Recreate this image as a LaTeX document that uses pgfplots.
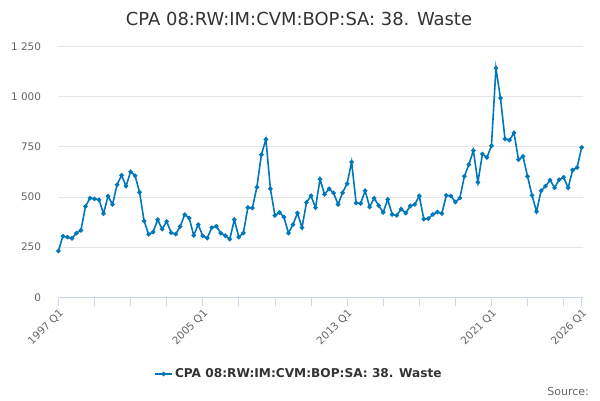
\documentclass[border=0pt]{standalone}
\usepackage{pgfplots}
\pgfplotsset{compat=1.18}
\usepackage{fontspec}
\setmainfont{DejaVu Sans}
\definecolor{linecol}{RGB}{0,119,187}
\definecolor{gridcol}{RGB}{230,230,230}
\definecolor{axiscol}{RGB}{204,214,235}
\definecolor{ticktext}{RGB}{102,102,102}
\definecolor{titletext}{RGB}{51,51,51}
\begin{document}
\begin{tikzpicture}[x=1bp,y=1bp]
\path[use as bounding box] (0,0) rectangle (600,400);
\node[font=\fontsize{18}{20}\selectfont, text=titletext] at (299,381) {CPA 08:RW:IM:CVM:BOP:SA: 38. Waste};
\node[font=\fontsize{11}{13}\selectfont, text=ticktext, anchor=base east, inner sep=0pt] at (589,5) {Source:};
\begin{axis}[
  at={(57.5bp,102.7bp)}, anchor=south west,
  scale only axis, width=525.5bp, height=250.8bp,
  xmin=-0.2, xmax=116.3, ymin=0, ymax=1250,
  axis x line*=bottom, axis y line*=left,
  x axis line style={draw=axiscol, line width=0.8pt, -},
  y axis line style={draw=none},
  xtick={0,32,64,96,116},
  xticklabels={1997 Q1,2005 Q1,2013 Q1,2021 Q1,2026 Q1},
  minor xtick={8,16,24,40,48,56,72,80,88,104,112},
  ytick={0,250,500,750,1000,1250},
  yticklabels={0,250,500,750,1 000,1 250},
  tick align=outside,
  major tick length=9bp, minor tick length=9bp,
  xtick style={draw=axiscol, line width=0.8pt},
  minor x tick style={draw=axiscol, line width=0.8pt},
  ytick style={draw=none},
  ymajorgrids, grid style={draw=gridcol, line width=0.8pt},
  xticklabel style={font=\fontsize{10.5}{12}\selectfont, text=ticktext, rotate=45, anchor=north east, inner sep=1pt},
  yticklabel style={font=\fontsize{10.5}{12}\selectfont, text=ticktext, anchor=east, xshift=-4bp},
  legend style={at={(axis description cs:0.4596,-0.3058)}, anchor=center, draw=none, fill=none,
    font=\bfseries\fontsize{12.2}{14}\selectfont, text=titletext},
  legend cell align=left,
]
\addplot[color=linecol, line width=1.6pt, mark=*, mark size=1.4pt, mark options={fill=linecol, draw=linecol}] coordinates {
(0,231)(1,305)(2,300)(3,294)(4,320)(5,334)(6,453)(7,494)(8,491)(9,486)
(10,417)(11,504)(12,463)(13,561)(14,608)(15,554)(16,626)(17,606)(18,523)(19,380)
(20,314)(21,325)(22,387)(23,340)(24,378)(25,322)(26,315)(27,353)(28,412)(29,395)
(30,309)(31,362)(32,306)(33,295)(34,347)(35,354)(36,320)(37,307)(38,290)(39,387)
(40,300)(41,320)(42,447)(43,445)(44,549)(45,711)(46,787)(47,541)(48,408)(49,423)
(50,400)(51,320)(52,362)(53,420)(54,347)(55,473)(56,506)(57,447)(58,589)(59,513)
(60,541)(61,520)(62,463)(63,521)(64,566)(65,674)(66,470)(67,468)(68,531)(69,450)
(70,494)(71,457)(72,423)(73,488)(74,413)(75,408)(76,440)(77,420)(78,455)(79,463)
(80,505)(81,390)(82,392)(83,413)(84,425)(85,418)(86,508)(87,505)(88,475)(89,495)
(90,603)(91,662)(92,732)(93,573)(94,714)(95,697)(96,755)(97,1142)(98,993)(99,790)
(100,783)(101,820)(102,686)(103,702)(104,603)(105,508)(106,427)(107,531)(108,554)(109,584)
(110,546)(111,586)(112,598)(113,546)(114,634)(115,647)(116,747)
};
\addlegendentry{CPA 08:RW:IM:CVM:BOP:SA: 38. Waste}
\end{axis}
\end{tikzpicture}
\end{document}
